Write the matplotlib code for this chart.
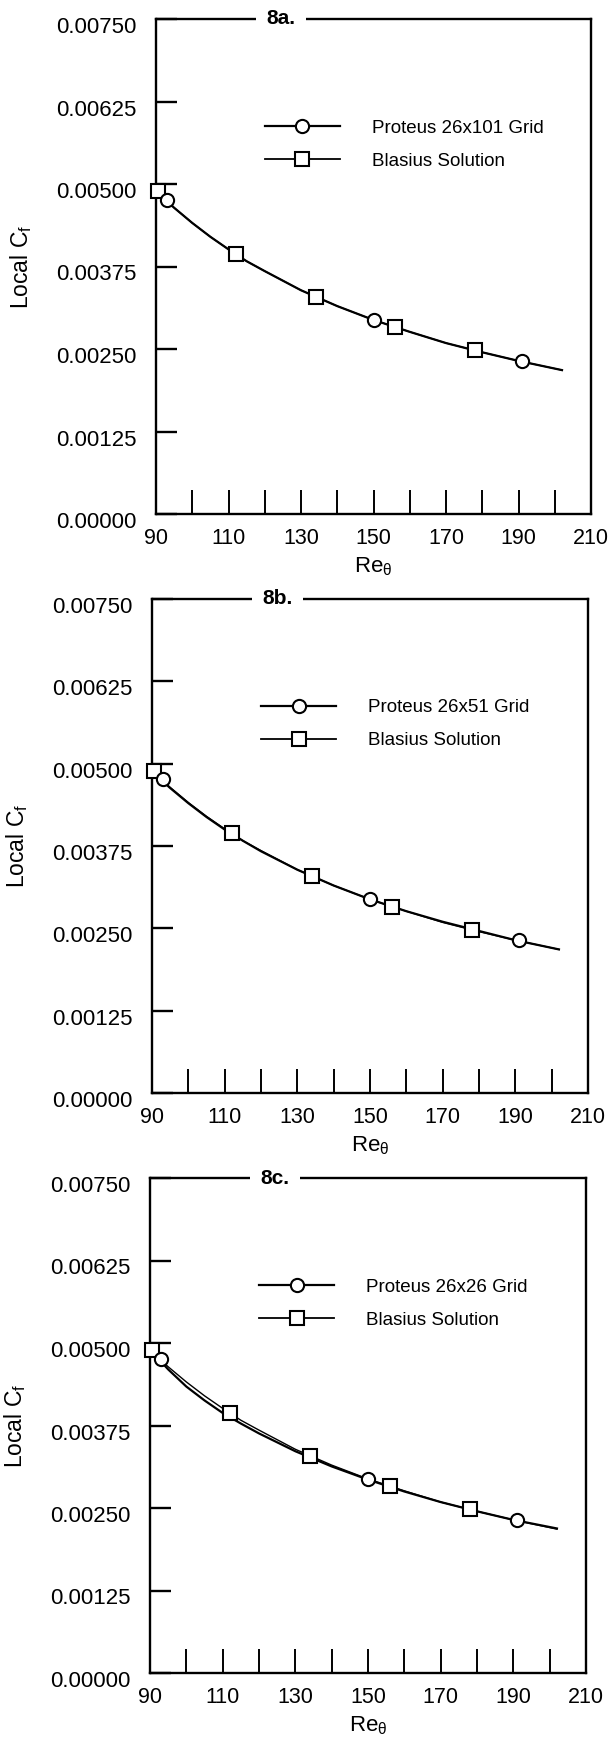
import matplotlib
matplotlib.use('Agg')
import matplotlib.pyplot as plt
from matplotlib.lines import Line2D
from matplotlib.transforms import ScaledTranslation

plt.rcParams['font.family'] = ['Liberation Sans', 'DejaVu Sans']
plt.rcParams['mathtext.fontset'] = 'custom'
plt.rcParams['mathtext.rm'] = 'Liberation Sans'
plt.rcParams['mathtext.it'] = 'Liberation Sans'
plt.rcParams['mathtext.bf'] = 'Liberation Sans:bold'
plt.rcParams['mathtext.default'] = 'regular'

# ---------------- data ----------------
panel_titles = ['8a.', '8b.', '8c.']
proteus_labels = ['Proteus 26x101 Grid', 'Proteus 26x51 Grid', 'Proteus 26x26 Grid']
blasius_label = 'Blasius Solution'

# continuous curves
curve_re = [90.5, 92, 95, 100, 105, 110, 115, 120, 130, 140, 150, 160, 170, 180, 190, 202]
blasius_cf = [0.00488, 0.00479, 0.00464, 0.00441, 0.00420, 0.00401, 0.00383, 0.00368,
              0.00339, 0.00315, 0.00294, 0.00276, 0.00259, 0.00245, 0.00232, 0.00218]
proteus_cf_a = [0.00488, 0.00479, 0.00464, 0.00441, 0.00420, 0.00401, 0.00383, 0.00368,
                0.00339, 0.00315, 0.00294, 0.00276, 0.00259, 0.00245, 0.00232, 0.00218]
proteus_cf_b = [0.00487, 0.00478, 0.00463, 0.00440, 0.00419, 0.00400, 0.00383, 0.00367,
                0.00339, 0.00315, 0.00294, 0.00276, 0.00260, 0.00246, 0.00232, 0.00218]
proteus_cf_c = [0.00486, 0.00478, 0.00460, 0.00434, 0.00413, 0.00394, 0.00378, 0.00363,
                0.00336, 0.00313, 0.00293, 0.00275, 0.00259, 0.00245, 0.00232, 0.00219]
proteus_curves = [proteus_cf_a, proteus_cf_b, proteus_cf_c]

# symbols
proteus_pts_re = [93, 150, 191]
proteus_pts_cf = [0.00476, 0.00294, 0.00232]
blasius_pts_re = [90.5, 112, 134, 156, 178]
blasius_pts_cf = [0.00489, 0.00394, 0.00329, 0.00283, 0.00248]

# axes ticks
xticks = [90, 100, 110, 120, 130, 140, 150, 160, 170, 180, 190, 200, 210]
xtick_labels = ['90', '', '110', '', '130', '', '150', '', '170', '', '190', '', '210']
yticks = [0.0, 0.00125, 0.0025, 0.00375, 0.005, 0.00625, 0.0075]
ytick_labels = ['0.00000', '0.00125', '0.00250', '0.00375', '0.00500', '0.00625', '0.00750']

# ---------------- figure ----------------
W, H = 611, 1748
fig = plt.figure(figsize=(W / 100, H / 100), dpi=100)

rects = [
    (156 / W, 1 - 514 / H, 435 / W, 495 / H),
    (152 / W, 1 - 1093 / H, 436 / W, 494 / H),
    (150 / W, 1 - 1673 / H, 436 / W, 495 / H),
]

for i, rect in enumerate(rects):
    ax = fig.add_axes(rect)
    ax.set_xlim(90, 210)
    ax.set_ylim(0, 0.0075)

    # curves
    ax.plot(curve_re, blasius_cf, color='black', lw=1.0, zorder=2)
    ax.plot(curve_re[1:], proteus_curves[i][1:], color='black', lw=1.6, zorder=2)
    # symbols
    ax.plot(blasius_pts_re, blasius_pts_cf, ls='none', marker='s', ms=10.5,
            mfc='white', mec='black', mew=1.5, zorder=4, clip_on=False)
    ax.plot(proteus_pts_re, proteus_pts_cf, ls='none', marker='o', ms=9.5,
            mfc='white', mec='black', mew=1.5, zorder=4, clip_on=False)

    for s in ax.spines.values():
        s.set_linewidth(1.7)

    ax.set_xticks(xticks)
    ax.set_xticklabels(xtick_labels)
    ax.set_yticks(yticks)
    ax.set_yticklabels(ytick_labels)
    ax.tick_params(axis='x', direction='in', length=17, width=1.4, pad=10,
                   labelsize=15.5, top=False)
    ax.tick_params(axis='y', direction='in', length=15, width=1.7, pad=14,
                   labelsize=16, right=False)
    off = ScaledTranslation(0, -0.06, fig.dpi_scale_trans)
    for lab in ax.get_yticklabels():
        lab.set_transform(lab.get_transform() + off)

    ax.set_ylabel('Local C$_f$', fontsize=16.5)
    ax.yaxis.set_label_coords(-0.28, 0.5)
    ax.set_xlabel(r'Re$_\theta$', fontsize=16)
    ax.xaxis.set_label_coords(0.5, -0.083)

    # panel title sitting in a gap of the top frame
    ax.text(0.287, 1.0, panel_titles[i], transform=ax.transAxes, ha='center',
            va='center', fontsize=15, fontweight='bold', zorder=10,
            bbox=dict(boxstyle='square,pad=0.5', fc='white', ec='none'))

    handles = [
        Line2D([], [], color='black', lw=1.6, marker='o', ms=9.5, mfc='white',
               mec='black', mew=1.5),
        Line2D([], [], color='black', lw=1.3, marker='s', ms=10.5, mfc='white',
               mec='black', mew=1.5),
    ]
    ax.legend(handles, [proteus_labels[i], blasius_label], loc='upper left',
              bbox_to_anchor=(0.25, 0.797), frameon=False, handlelength=4.0,
              handletextpad=1.7, labelspacing=0.85, borderpad=0,
              borderaxespad=0, fontsize=13.5, numpoints=1)

fig.savefig('out.png', dpi=100, facecolor='white')
